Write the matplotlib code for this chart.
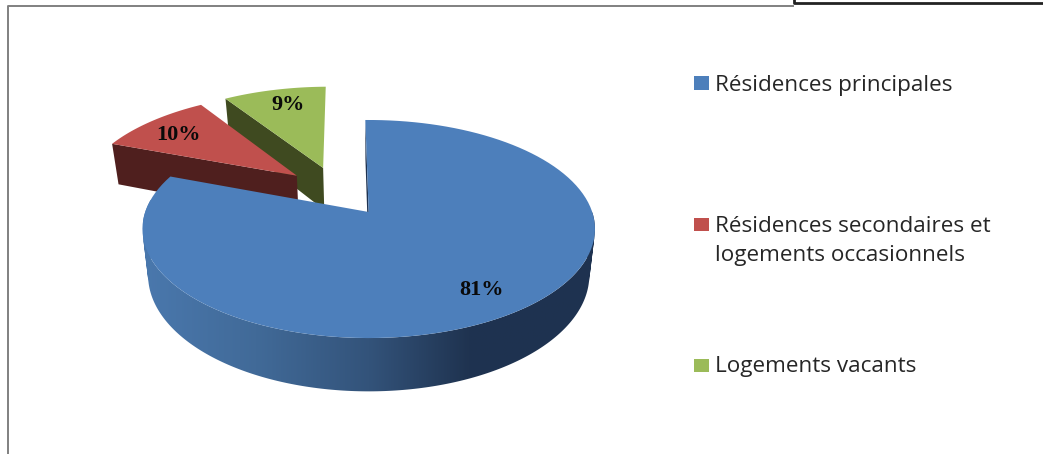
import numpy as np
import matplotlib
matplotlib.use("Agg")
import matplotlib.pyplot as plt
from matplotlib.colors import LinearSegmentedColormap
from matplotlib.patches import PathPatch, Polygon, Rectangle
from matplotlib.path import Path

# data
categories = ["Résidences principales",
              "Résidences secondaires et\nlogements occasionnels",
              "Logements vacants"]
values = [81, 10, 9]
value_labels = ["81%", "10%", "9%"]

# style
top_colors = ["#4D7FBB", "#C0504D", "#9BBB59"]
wall_colors = ["#1E3250", "#4F1F1E", "#3F4A20"]
label_xy = [(481, 290), (178, 135.5), (288, 105.5)]
legend_base = [91, 232, 372]
marker_y = [82.5, 224, 365]

# pie geometry, in picture pixels
cx, rx = 368.7, 223.5
Y_A, Y_B, PERSP = 73.3, 212.0, -0.156
DEPTH = 45.0
EXPLODE = 0.25
START = -1.0
SHRINK = 0.975


def project(u, v, drop=0.0):
    w = 1 + PERSP * v
    x = cx + rx * u / w
    y = (Y_A * v + Y_B) / w + drop / w
    if drop:
        x = cx + (x - cx) * SHRINK
    return x, y


def wedge_points(a0, a1, off, n=120):
    t = np.radians(np.linspace(a0, a1, n))
    u = np.concatenate([[off[0]], off[0] + np.sin(t)])
    v = np.concatenate([[off[1]], off[1] - np.cos(t)])
    return u, v


def quad_path(pts):
    # same winding for every quad, otherwise overlaps cancel in the clip
    p = np.array(pts)
    area = np.sum(p[:, 0] * np.roll(p[:, 1], -1) - np.roll(p[:, 0], -1) * p[:, 1])
    if area < 0:
        p = p[::-1]
    return Path(np.vstack([p, p[0]]), closed=True)


fig = plt.figure(figsize=(10.43, 4.54), dpi=100)
ax = fig.add_axes([0, 0, 1, 1])

# wedge angles, clockwise from the top
angles = START + np.cumsum([0] + values) * 360.0 / sum(values)
mid = np.radians((angles[:-1] + angles[1:]) / 2)
offsets = [(EXPLODE * (np.sin(m) - np.sin(mid[0])),
            EXPLODE * (-np.cos(m) + np.cos(mid[0]))) for m in mid]

# back to front: green, red, blue
for i in [2, 1, 0]:
    u, v = wedge_points(angles[i], angles[i + 1], offsets[i])
    xt, yt = project(u, v)
    xb, yb = project(u, v, DEPTH)
    z = (2 - i) * 3

    # wall under the radial edge that faces the viewer
    ax.add_patch(Polygon([(xt[0], yt[0]), (xt[1], yt[1]), (xb[1], yb[1]), (xb[0], yb[0])],
                         closed=True, fc=wall_colors[i], ec="none", zorder=z + 1))

    if i == 0:
        # curved front wall, swept quad by quad so the silhouette stays straight
        t = np.radians(np.linspace(90, angles[1], 240))
        xa, ya = project(np.sin(t), -np.cos(t))
        xc, yc = project(np.sin(t), -np.cos(t), DEPTH)
        quads = [quad_path([(xa[j], ya[j]), (xa[j + 1], ya[j + 1]),
                            (xc[j + 1], yc[j + 1]), (xc[j], yc[j])])
                 for j in range(len(t) - 1)]
        wall = PathPatch(Path.make_compound_path(*quads), fc="none", ec="none", zorder=z + 1)
        ax.add_patch(wall)
        cmap = LinearSegmentedColormap.from_list(
            "wall", [(0, "#4A78AD"), (0.25, "#416A98"), (0.5, "#33537A"),
                     (0.72, "#1F3350"), (1, "#1E3250")])
        im = ax.imshow(np.linspace(0, 1, 256).reshape(1, -1), cmap=cmap, aspect="auto",
                       extent=[143, 596, 400, 200], zorder=z + 1)
        im.set_clip_path(wall)

    ax.add_patch(Polygon(np.column_stack([xt, yt]), closed=True, fc=top_colors[i],
                         ec="none", zorder=z + 3))

for lab, (lx, ly) in zip(value_labels, label_xy):
    ax.text(lx, ly, lab, ha="center", va="center", fontsize=16, fontweight="bold",
            family="Liberation Serif", color="#0a0a0a", zorder=20)

# legend
for name, col, ty, my in zip(categories, top_colors, legend_base, marker_y):
    ax.add_patch(Rectangle((694, my - 6.5), 14.5, 13.5, fc=col, ec="none", zorder=20))
    for k, line in enumerate(name.split("\n")):
        ax.text(715, ty + 29.5 * k, line, ha="left", va="baseline", fontsize=16.2,
                family="Open Sans", color="#262626", zorder=20)

# frame bits of the original page
ax.plot([8, 8, 793], [454, 6, 6], color="#808080", lw=1.4, zorder=1)
ax.plot([793.5, 793.5, 1043], [0, 3, 3], color="#222222", lw=2, zorder=2)

ax.set_xlim(0, 1043)
ax.set_ylim(454, 0)
ax.axis("off")
fig.savefig("out.png", dpi=100)
